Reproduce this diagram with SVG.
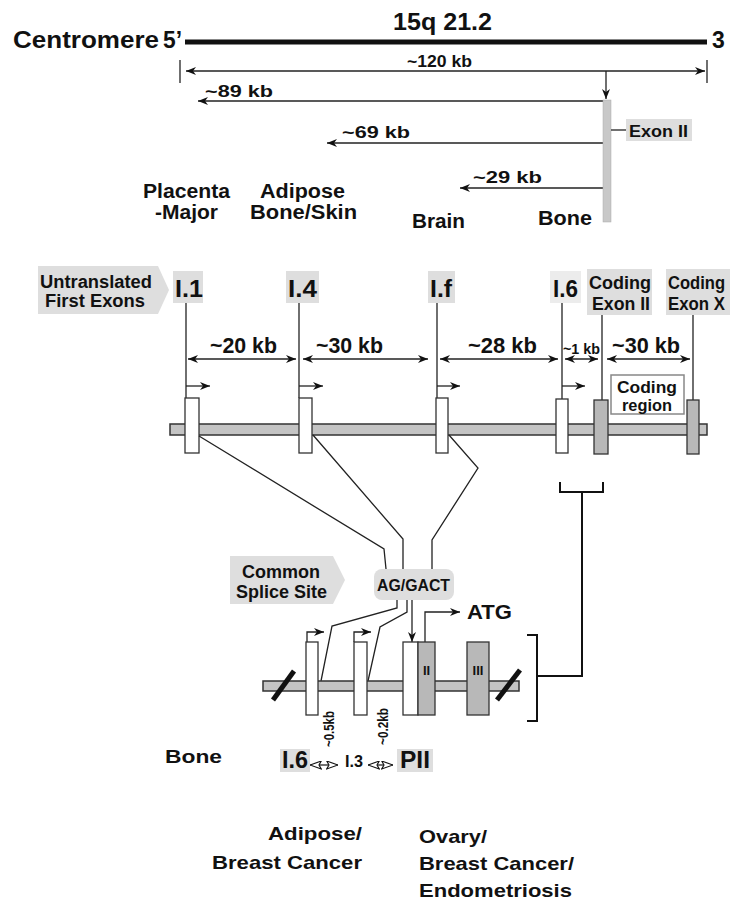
<svg xmlns="http://www.w3.org/2000/svg" width="730" height="901" viewBox="0 0 730 901">
<defs>
<marker id="ah" viewBox="0 0 10 8" refX="10" refY="4" markerWidth="10" markerHeight="8" markerUnits="userSpaceOnUse" orient="auto-start-reverse"><path d="M0,0 L10,4 L0,8 L3,4 z" fill="#111"/></marker>
<marker id="oh" viewBox="0 0 10 8" refX="10" refY="4" markerWidth="12" markerHeight="9" markerUnits="userSpaceOnUse" orient="auto-start-reverse"><path d="M0,0.5 L10,4 L0,7.5 L2,4 z" fill="#fff" stroke="#111" stroke-width="1"/></marker>
</defs>
<style>
text{font-family:"Liberation Sans",Arial,Helvetica,sans-serif;font-weight:bold;fill:#111}
.ln{stroke:#222;stroke-width:1.3;fill:none}
.th{stroke:#111;stroke-width:2;fill:none}
.lbl{fill:#dedede}
.ex{fill:#fff;stroke:#333;stroke-width:1.3}
.cx{fill:#b8b8b8;stroke:#333;stroke-width:1.3}
.bar{fill:#c4c4c4;stroke:#333;stroke-width:1.5}
.ar{marker-end:url(#ah)}
.dar{marker-start:url(#ah);marker-end:url(#ah)}
</style>

<!-- Top chromosome map -->
<g id="chromosome">
<text x="393" y="30" font-size="24" textLength="99" lengthAdjust="spacingAndGlyphs">15q 21.2</text>
<text x="13" y="48" font-size="23" textLength="146" lengthAdjust="spacingAndGlyphs">Centromere</text>
<text x="163" y="48" font-size="23" textLength="19" lengthAdjust="spacingAndGlyphs" font-weight="normal">5’</text>
<line x1="185" y1="42" x2="707" y2="42" stroke="#111" stroke-width="5"/>
<text x="712" y="48" font-size="23" font-weight="normal">3</text>
</g>

<g id="distances-top">
<line class="ln" x1="180" y1="60" x2="180" y2="83"/>
<line class="ln" x1="707" y1="60" x2="707" y2="83"/>
<line class="ln dar" x1="186" y1="71" x2="705" y2="71"/>
<text x="407" y="67" font-size="16" textLength="65" lengthAdjust="spacingAndGlyphs">~120 kb</text>
<line class="ln ar" x1="606" y1="71" x2="606" y2="99"/>
<line class="ln ar" x1="604" y1="101" x2="198" y2="101"/>
<text x="205" y="97" font-size="17" textLength="68" lengthAdjust="spacingAndGlyphs">~89 kb</text>
<line class="ln ar" x1="603" y1="143" x2="327" y2="143"/>
<text x="342" y="138" font-size="17" textLength="68" lengthAdjust="spacingAndGlyphs">~69 kb</text>
<line class="ln ar" x1="603" y1="188" x2="460" y2="188"/>
<text x="473" y="183" font-size="17" textLength="69" lengthAdjust="spacingAndGlyphs">~29 kb</text>
</g>

<g id="exon2-top">
<rect x="603" y="100" width="8" height="122" fill="#c8c8c8" stroke="#aaa" stroke-width="0.5"/>
<line class="ln" x1="611" y1="130" x2="626" y2="130"/>
<rect class="lbl" x="626" y="119" width="66" height="22"/>
<text x="629" y="137" font-size="17" textLength="59" lengthAdjust="spacingAndGlyphs">Exon II</text>
</g>

<g id="tissues-top">
<text x="143" y="198" font-size="20" textLength="87" lengthAdjust="spacingAndGlyphs">Placenta</text>
<text x="155" y="219" font-size="20" textLength="63" lengthAdjust="spacingAndGlyphs">-Major</text>
<text x="260" y="198" font-size="20" textLength="85" lengthAdjust="spacingAndGlyphs">Adipose</text>
<text x="250" y="219" font-size="20" textLength="107" lengthAdjust="spacingAndGlyphs">Bone/Skin</text>
<text x="412" y="228" font-size="20" textLength="53" lengthAdjust="spacingAndGlyphs">Brain</text>
<text x="538" y="225" font-size="20" textLength="54" lengthAdjust="spacingAndGlyphs">Bone</text>
</g>

<!-- Middle gene map -->
<g id="untranslated-label">
<polygon class="lbl" points="38,266 158,266 169,290 158,314 38,314"/>
<text x="40" y="288" font-size="18" textLength="112" lengthAdjust="spacingAndGlyphs">Untranslated</text>
<text x="45" y="307" font-size="18" textLength="100" lengthAdjust="spacingAndGlyphs">First Exons</text>
</g>

<g id="exon-labels">
<rect class="lbl" x="173" y="271" width="30" height="32"/>
<text x="175" y="297" font-size="24" textLength="28" lengthAdjust="spacingAndGlyphs">I.1</text>
<rect class="lbl" x="286" y="271" width="33" height="32"/>
<text x="288" y="297" font-size="24" textLength="29" lengthAdjust="spacingAndGlyphs">I.4</text>
<rect class="lbl" x="428" y="271" width="27" height="32"/>
<text x="430" y="297" font-size="24" textLength="22" lengthAdjust="spacingAndGlyphs">I.f</text>
<rect x="550" y="271" width="31" height="32" fill="#ececec"/>
<text x="553" y="297" font-size="24" textLength="25" lengthAdjust="spacingAndGlyphs">I.6</text>
<rect class="lbl" x="587" y="269" width="65" height="46"/>
<text x="589" y="289" font-size="18" textLength="62" lengthAdjust="spacingAndGlyphs">Coding</text>
<text x="592" y="310" font-size="18" textLength="58" lengthAdjust="spacingAndGlyphs">Exon II</text>
<rect class="lbl" x="666" y="269" width="64" height="46"/>
<text x="668" y="289" font-size="18" textLength="57" lengthAdjust="spacingAndGlyphs">Coding</text>
<text x="668" y="310" font-size="18" textLength="57" lengthAdjust="spacingAndGlyphs">Exon X</text>
</g>

<g id="exon-lines">
<line class="ln" x1="186" y1="303" x2="186" y2="398"/>
<line class="ln" x1="299" y1="303" x2="299" y2="398"/>
<line class="ln" x1="437" y1="303" x2="437" y2="398"/>
<line class="ln" x1="562" y1="303" x2="562" y2="399"/>
<line class="ln" x1="602" y1="315" x2="602" y2="400"/>
<line class="ln" x1="693" y1="315" x2="693" y2="400"/>
</g>

<g id="distances-mid">
<line class="ln dar" x1="188" y1="359" x2="296" y2="359"/>
<text x="210" y="353" font-size="22" textLength="67" lengthAdjust="spacingAndGlyphs">~20 kb</text>
<line class="ln dar" x1="303" y1="359" x2="428" y2="359"/>
<text x="316" y="353" font-size="22" textLength="67" lengthAdjust="spacingAndGlyphs">~30 kb</text>
<line class="ln dar" x1="440" y1="359" x2="558" y2="359"/>
<text x="468" y="353" font-size="22" textLength="69" lengthAdjust="spacingAndGlyphs">~28 kb</text>
<line class="ln dar" x1="565" y1="359" x2="598" y2="359"/>
<text x="563" y="354" font-size="14" textLength="37" lengthAdjust="spacingAndGlyphs">~1 kb</text>
<line class="ln dar" x1="607" y1="359" x2="690" y2="359"/>
<text x="612" y="353" font-size="22" textLength="68" lengthAdjust="spacingAndGlyphs">~30 kb</text>
</g>

<g id="promoters-mid">
<line class="ln ar" x1="186" y1="386" x2="210" y2="386"/>
<line class="ln ar" x1="299" y1="386" x2="323" y2="386"/>
<line class="ln ar" x1="437" y1="386" x2="460" y2="386"/>
<line class="ln ar" x1="562" y1="386" x2="585" y2="386"/>
</g>

<g id="gene-mid">
<rect class="bar" x="170" y="424" width="537" height="11"/>
<rect class="ex" x="185" y="398" width="14" height="55"/>
<rect class="ex" x="299" y="398" width="13" height="55"/>
<rect class="ex" x="436" y="398" width="12" height="55"/>
<rect class="ex" x="556" y="399" width="12" height="54"/>
<rect class="cx" x="594" y="400" width="14" height="54"/>
<rect class="cx" x="687" y="400" width="12" height="54"/>
</g>

<g id="coding-region">
<rect x="611" y="375" width="73" height="39" fill="#fff" stroke="#888" stroke-width="1.5"/>
<text x="617" y="393" font-size="17" textLength="60" lengthAdjust="spacingAndGlyphs">Coding</text>
<text x="622" y="411" font-size="17" textLength="50" lengthAdjust="spacingAndGlyphs">region</text>
</g>

<!-- Splice connectors -->
<g id="connectors">
<polyline class="ln" points="199,436 384,549 386,569"/>
<polyline class="ln" points="313,435 403,539 403,569"/>
<polyline class="ln" points="449,435 478,468 432,540 432,569"/>
<polyline class="ln" points="397,600 397,608 332,626 321,681"/>
<polyline class="ln" points="407,600 407,612 380,627 368,681"/>
<line class="ln ar" x1="412" y1="600" x2="412" y2="642"/>
<polyline class="ln ar" points="425,642 425,612 460,612"/>
<polyline class="ln ar" points="307,642 307,632 324,632"/>
<polyline class="ln ar" points="354,642 354,632 371,632"/>
<path class="th" d="M560,482 V492 H603 V482"/>
<path class="th" d="M582,492 V676 H537"/>
<path class="th" d="M527,635 H537 V721 H527"/>
</g>

<g id="splice-label">
<polygon class="lbl" points="230,556 333,556 345,580 333,604 230,604"/>
<text x="242" y="578" font-size="18" textLength="78" lengthAdjust="spacingAndGlyphs">Common</text>
<text x="236" y="598" font-size="18" textLength="91" lengthAdjust="spacingAndGlyphs">Splice Site</text>
</g>

<g id="splice-site">
<rect class="lbl" x="374" y="569" width="80" height="31" rx="8"/>
<text x="377" y="591" font-size="17" textLength="73" lengthAdjust="spacingAndGlyphs">AG/GACT</text>
</g>

<g id="atg">
<text x="467" y="619" font-size="21" textLength="45" lengthAdjust="spacingAndGlyphs">ATG</text>
</g>

<!-- Lower detailed gene -->
<g id="gene-low">
<rect class="bar" x="263" y="681" width="256" height="10"/>
<line x1="273" y1="700" x2="294" y2="671" stroke="#111" stroke-width="5"/>
<line x1="497" y1="700" x2="520" y2="670" stroke="#111" stroke-width="5"/>
<rect class="ex" x="306" y="642" width="12" height="73"/>
<rect class="ex" x="354" y="642" width="13" height="73"/>
<rect class="ex" x="403" y="642" width="15" height="73"/>
<rect class="cx" x="418" y="642" width="17" height="73"/>
<text x="426.5" y="675" font-size="13" text-anchor="middle">II</text>
<rect class="cx" x="467" y="642" width="22" height="73"/>
<text x="478" y="675" font-size="13" text-anchor="middle">III</text>
</g>

<g id="low-distances">
<text transform="translate(334,747) rotate(-90)" font-size="14" textLength="36" lengthAdjust="spacingAndGlyphs">~0.5kb</text>
<text transform="translate(388,745) rotate(-90)" font-size="14" textLength="37" lengthAdjust="spacingAndGlyphs">~0.2kb</text>
<line x1="310" y1="765" x2="338" y2="765" stroke="#111" stroke-width="1.2" marker-start="url(#oh)" marker-end="url(#oh)"/>
<line x1="368" y1="765" x2="393" y2="765" stroke="#111" stroke-width="1.2" marker-start="url(#oh)" marker-end="url(#oh)"/>
</g>

<g id="promoter-labels">
<rect class="lbl" x="280" y="749" width="30" height="23"/>
<text x="282" y="768" font-size="24" textLength="26" lengthAdjust="spacingAndGlyphs">I.6</text>
<text x="345" y="767" font-size="16" textLength="18" lengthAdjust="spacingAndGlyphs">I.3</text>
<rect class="lbl" x="397" y="749" width="36" height="23"/>
<text x="400" y="768" font-size="24" textLength="30" lengthAdjust="spacingAndGlyphs">PII</text>
</g>

<g id="tissues-low">
<text x="165" y="763" font-size="19" textLength="57" lengthAdjust="spacingAndGlyphs">Bone</text>
<text x="268" y="840" font-size="19" textLength="94" lengthAdjust="spacingAndGlyphs">Adipose/</text>
<text x="212" y="869" font-size="19" textLength="150" lengthAdjust="spacingAndGlyphs">Breast Cancer</text>
<text x="419" y="843" font-size="19" textLength="68" lengthAdjust="spacingAndGlyphs">Ovary/</text>
<text x="419" y="870" font-size="19" textLength="155" lengthAdjust="spacingAndGlyphs">Breast Cancer/</text>
<text x="419" y="897" font-size="19" textLength="153" lengthAdjust="spacingAndGlyphs">Endometriosis</text>
</g>
</svg>
